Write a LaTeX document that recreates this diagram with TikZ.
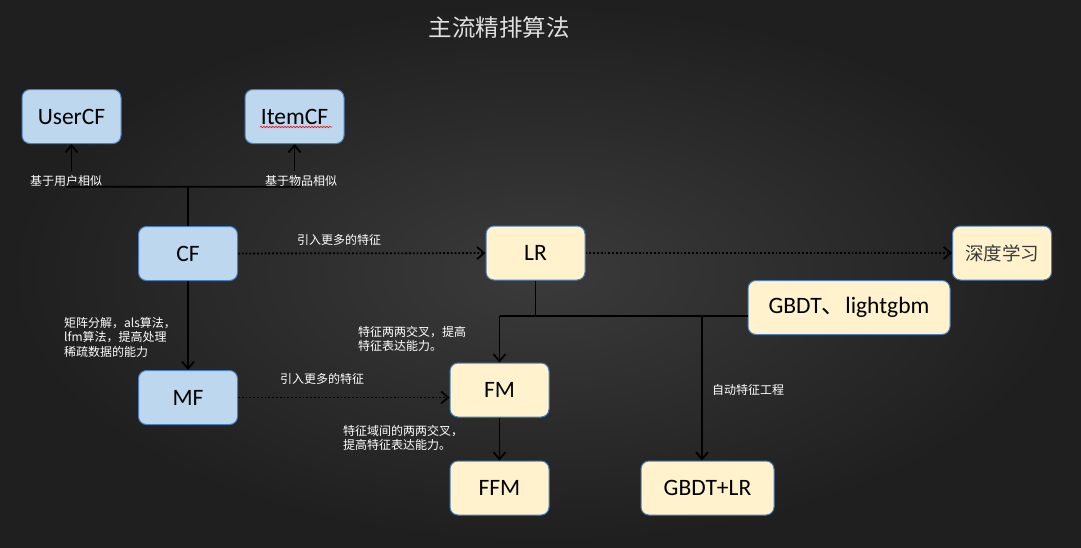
\documentclass[tikz,border=0pt]{standalone}
\usepackage{fontspec}
\setmainfont{Carlito}
\newfontfamily\cjk{Noto Sans CJK SC}
\usetikzlibrary{arrows.meta,positioning,decorations.pathmorphing}

\definecolor{cfblue}{HTML}{BDD7EE}
\definecolor{lryellow}{HTML}{FFF2CC}
\definecolor{boxline}{HTML}{4A7EBB}
\definecolor{deepgray}{HTML}{3A3A3A}

\tikzset{
  algo/.style={draw=boxline, line width=1pt, rounded corners=8pt,
    minimum width=99pt, minimum height=54pt, text=black,
    font=\fontsize{23.5}{26}\selectfont},
  cfbox/.style={algo, fill=cfblue},
  lrbox/.style={algo, fill=lryellow},
  note/.style={text=white, inner sep=0pt, align=left,
    font=\cjk\fontsize{12}{14.5}\selectfont},
  trunk/.style={line width=1.8pt},
  flow/.style={trunk, -{Straight Barb[length=7pt,width=12pt]}},
  more/.style={flow, dotted},
}

\begin{document}
\begin{tikzpicture}[x=1pt,y=-1pt]

  % background
  \shade[inner color=black!77, outer color=black!88] (0,0) rectangle (1081,547);

  \node[text=black!12, font=\cjk\fontsize{23.5}{26}\selectfont] (title) at (499,28) {主流精排算法};

  % boxes
  \node[cfbox] (user) at (71.5,116.5) {UserCF};
  \node[cfbox] (item) at (294.5,116.5) {ItemCF};
  \node[cfbox] (cf) at (188,253.5) {CF};
  \node[cfbox] (mf) at (188,397.5) {MF};
  \node[lrbox] (lr) at (535.5,253) {LR};
  \node[lrbox, text=deepgray, font=\cjk\fontsize{18.5}{22}\selectfont] (deep) at (1002,253) {深度学习};
  \node[lrbox, minimum width=202pt] (gbdt) at (849,307.5) {GBDT{\cjk 、}lightgbm};
  \node[lrbox] (fm) at (499.5,390) {FM};
  \node[lrbox] (ffm) at (499.5,488) {FFM};
  \node[lrbox, minimum width=133pt] (gbdtlr) at (707.5,488) {GBDT+LR};

  \draw[red, line width=0.6pt, decorate, decoration={snake, amplitude=0.8pt, segment length=3pt}]
    (260,127) -- (332,127);

  % CF branches
  \node[note] (userlbl) at (66,181) {基于用户相似};
  \node[note] (itemlbl) at (301,181) {基于物品相似};
  \draw[trunk] (userlbl.south) -- (itemlbl.south);
  \draw[trunk] (cf.north) -- (cf.north |- userlbl.south);
  \draw[flow] ([yshift=4pt]userlbl.north -| user.south) -- (user.south);
  \draw[flow] ([yshift=4pt]itemlbl.north -| item.south) -- (item.south);

  \draw[more] (cf) -- (lr);
  \node[note] (cflr) at (339,240) {引入更多的特征};
  \draw[more] (lr) -- (deep);

  \draw[flow] (cf) -- (mf);
  \node[note, anchor=north west] (mflbl) at (64,317) {矩阵分解，als算法，\\lfm算法，提高处理\\稀疏数据的能力};

  \draw[more] (mf.east) -- (mf.east -| fm.west);
  \node[note] (mffm) at (322,379) {引入更多的特征};

  % LR fork
  \coordinate (fork) at (535.5,316);
  \coordinate (autofe) at (702,316);
  \draw[trunk] (lr.south) -- (fork);
  \draw[trunk] (fm.north |- fork) -- (fork -| gbdt.west);
  \draw[flow] (fm.north |- fork) -- (fm.north);
  \draw[flow] (autofe) -- (autofe |- gbdtlr.north);
  \node[note, anchor=north west] (crosslbl) at (358,326) {特征两两交叉，提高\\特征表达能力。};
  \node[note, anchor=west] (autolbl) at (712,390) {自动特征工程};

  \draw[flow] (fm) -- (ffm);
  \node[note, anchor=north west] (fieldlbl) at (343,425) {特征域间的两两交叉，\\提高特征表达能力。};

\end{tikzpicture}
\end{document}
